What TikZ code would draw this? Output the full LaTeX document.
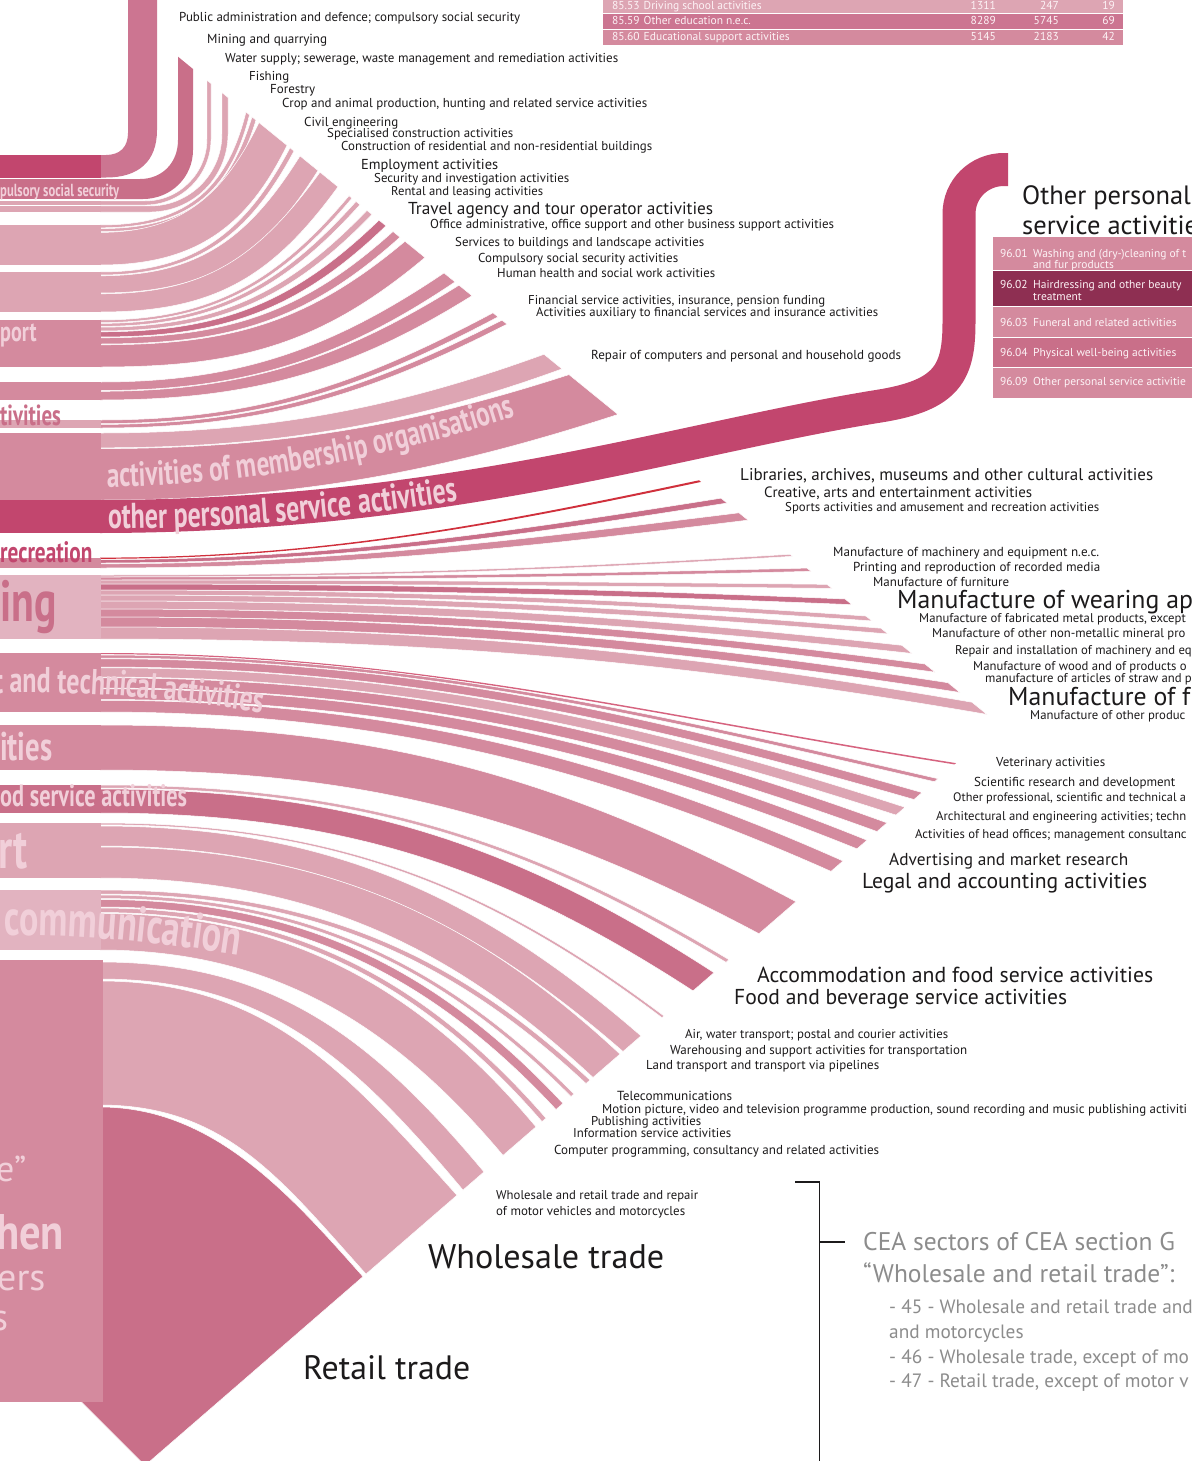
\documentclass[tikz,border=0pt]{standalone}
\usepackage{fontspec}
\usepackage{graphicx}
\setmainfont{PT Sans}
\newfontfamily\condb[FakeStretch=0.72]{PT Sans}
\newfontfamily\semib[FakeStretch=0.85]{PT Sans}
\usetikzlibrary{decorations.text}
\definecolor{cL}{HTML}{DDA5B3}
\definecolor{cM}{HTML}{D48A9E}
\definecolor{cD}{HTML}{C96F89}
\definecolor{cK}{HTML}{C2466E}
\definecolor{cR}{HTML}{CC7591}
\definecolor{cBar}{HTML}{E2B3C0}
\definecolor{cRed}{HTML}{D0303C}
\definecolor{cVet}{HTML}{D6637F}
\definecolor{cTxt}{HTML}{F1CFD9}
\definecolor{cDark}{HTML}{8E2F52}
\definecolor{cGray}{HTML}{8C8C8C}
\definecolor{cInk}{HTML}{1C1A1B}
\definecolor{cTab}{HTML}{FDF3F6}
\tikzset{
  lbl/.style={anchor=base west, inner sep=0pt, text=cInk},
  tabtxt/.style={anchor=base west, inner sep=0pt, text=cTab, font=\fontsize{11.5}{11.5}\selectfont},
  tabnum/.style={anchor=base east, inner sep=0pt, text=cTab, font=\fontsize{11.5}{11.5}\selectfont},
  bartxt/.style={anchor=base west, inner sep=0pt, text=cTxt},
  gtxt/.style={anchor=base west, inner sep=0pt, text=cGray},
  brk/.style={line width=1.3pt, cInk}
}
% ribbon: fill colour, ray slope, start top y, start bottom y, end x (top edge), end x (bottom edge), end angle, control factor, extra options
\newcommand\rib[9]{%
  \pgfmathsetmacro\rbEa{725+(#2)*(1000-(#5))}%
  \pgfmathsetmacro\rbEb{725+(#2)*(1000-(#6))}%
  \pgfmathsetmacro\rbDa{#8*10*veclen(((#5)-100)/10,(\rbEa-(#3))/10)}%
  \pgfmathsetmacro\rbDb{#8*10*veclen(((#6)-100)/10,(\rbEb-(#4))/10)}%
  \pgfmathsetmacro\rbC{cos(#7)}%
  \pgfmathsetmacro\rbS{sin(#7)}%
  \fill[fill=#1,draw=white,line width=0.5pt,#9] (100,#3) .. controls ({100+\rbDa},#3) and ({#5-\rbDa*\rbC},{\rbEa+\rbDa*\rbS}) .. (#5,\rbEa) -- (#6,\rbEb) .. controls ({#6-\rbDb*\rbC},{\rbEb+\rbDb*\rbS}) and ({100+\rbDb},#4) .. (100,#4) -- cycle;}
\newcommand\lab[5]{\node[lbl] (#1) at (#2,#3) {\resizebox{#4pt}{!}{#5}};}
\newcommand\labf[5]{\node[lbl,font=\fontsize{#4}{#4}\selectfont] (#1) at (#2,#3) {#5};}
\begin{document}
\begin{tikzpicture}[x=1pt,y=-1pt]
\useasboundingbox (0,0) rectangle (1191,1461);
\fill[white] (0,0) rectangle (1191,1461);

% ---------- top ribbons with corners ----------
\fill[cR] (100,155) -- (106,155) .. controls (120,155) and (128,147) .. (128,133) -- (128,-3) -- (157,-3) -- (157,130) .. controls (157,162) and (138,177.5) .. (106,177.5) -- (100,177.5) -- cycle;
\fill[cD] (100,179) -- (140,179) .. controls (162,179) and (178,163) .. (178,140) -- (178,56.7) -- (193,69) -- (193,150) .. controls (193,177.6) and (170.6,199) .. (143,199) -- (100,199) -- cycle;
% thin bands (mining, water supply)
\fill[cL,draw=white,line width=0.4pt] (100,201) -- (145,201) arc[start angle=90,end angle=0,radius=62] -- (207,80.3) -- (211,83.6) -- (211,139) arc[start angle=0,end angle=90,radius=66] -- (100,205) -- cycle;
\fill[cL,draw=white,line width=0.4pt] (100,206) -- (150,206) arc[start angle=90,end angle=0,radius=72] -- (222,92.6) -- (228,97.5) -- (228,134) arc[start angle=0,end angle=90,radius=78] -- (100,212) -- cycle;

% ---------- upper ribbons ----------
\rib{cL}{-0.813}{225}{227.8}{246}{249.5}{76}{0.45}{}
\rib{cL}{-0.813}{228.6}{231.6}{252}{256}{73}{0.45}{}
\rib{cL}{-0.813}{232.4}{265}{259}{287}{64}{0.42}{}
\rib{cL}{-0.813}{272}{275}{290}{294}{62}{0.42}{}
\rib{cL}{-0.813}{275.8}{293}{300}{318}{58}{0.42}{}
\rib{cL}{-0.813}{293.8}{312}{320}{338}{54}{0.42}{}
\rib{cL}{-0.813}{320}{322.6}{349}{352}{50}{0.4}{}
\rib{cL}{-0.813}{323.4}{326.4}{356}{360}{48}{0.4}{}
\rib{cL}{-0.813}{327.2}{331}{367}{372}{46}{0.4}{}
\rib{cD}{-0.813}{331.8}{337}{379}{386}{44}{0.4}{}
\rib{cM}{-0.813}{337.8}{344}{393}{400}{42}{0.4}{}
\rib{cM}{-0.813}{344.8}{367}{405}{425}{40}{0.4}{}
\rib{cM}{-0.813}{382}{390.5}{444}{455}{34}{0.38}{}
\rib{cM}{-0.813}{391.3}{400}{459}{472}{32}{0.38}{}
\rib{cM}{-0.813}{420}{423.6}{493}{498}{28}{0.38}{}
\rib{cM}{-0.813}{424.4}{428}{502}{507}{27}{0.38}{}
\rib{cL}{-0.813}{433}{447.8}{544}{562}{20}{0.36}{}
\rib{cM}{-0.813}{448.6}{500}{569}{618}{18}{0.36}{}
% arts, entertainment and recreation
\rib{cRed}{-0.813}{557.6}{558.8}{699}{701}{12}{0.36}{draw=none}
\rib{cD}{-0.813}{559.6}{563}{721}{727}{9}{0.36}{}
\rib{cM}{-0.813}{563.8}{568}{739}{748}{7}{0.36}{}
% manufacturing
\rib{cL}{-0.813}{575}{577}{790}{792.5}{3.5}{0.36}{}
\rib{cM}{-0.813}{577}{580}{807}{811}{1.4}{0.36}{}
\rib{cL}{-0.813}{580}{584}{827}{832}{-0.6}{0.36}{}
\rib{cD}{-0.813}{584}{590}{845}{852}{-2.4}{0.36}{}
\rib{cL}{-0.813}{590}{595}{866}{872}{-4}{0.36}{}
\rib{cL}{-0.813}{595}{601}{881}{888}{-4.8}{0.36}{}
\rib{cL}{-0.813}{601}{609}{902}{912}{-6.2}{0.36}{}
\rib{cM}{-0.813}{609}{617}{925}{935}{-7.6}{0.36}{}
\rib{cM}{-0.813}{617}{627}{948}{960}{-8.8}{0.36}{}
\rib{cL}{-0.813}{627}{639}{972}{987}{-9.8}{0.36}{}

% ---------- lower ribbons ----------
\rib{cVet}{0.866}{653}{654.2}{956}{954.5}{-9}{0.36}{draw=none}
\rib{cM}{0.866}{655}{658}{938}{934.5}{-13}{0.36}{}
\rib{cM}{0.866}{658.8}{667}{922}{914}{-16}{0.36}{}
\rib{cL}{0.866}{667.8}{677}{905}{896}{-18}{0.36}{}
\rib{cM}{0.866}{677.8}{688}{887}{877}{-20}{0.36}{}
\rib{cM}{0.866}{688.8}{699.5}{867}{857}{-22}{0.36}{}
\rib{cM}{0.866}{700.3}{712}{843}{831}{-24}{0.36}{}
\rib{cM}{0.866}{725}{770}{796}{759}{-28}{0.38}{}
\rib{cL}{0.866}{785}{788}{729}{726}{-31}{0.38}{}
\rib{cD}{0.866}{789}{813}{714}{693}{-33}{0.38}{}
\rib{cL}{0.866}{823}{824.8}{664}{662}{-37}{0.38}{}
\rib{cL}{0.866}{826}{846}{641}{623}{-41}{0.38}{}
\rib{cL}{0.866}{847}{878}{620}{593}{-43}{0.38}{}
\rib{cL}{0.866}{890}{894}{590}{586}{-43}{0.38}{}
\rib{cL}{0.866}{895}{898.5}{574}{571}{-45}{0.38}{}
\rib{cM}{0.866}{899.5}{907}{563}{556}{-47}{0.38}{}
\rib{cL}{0.866}{908}{912.5}{546}{542}{-49}{0.38}{}
\rib{cL}{0.866}{913.5}{950}{536}{503}{-50}{0.38}{}
\rib{cL}{0.866}{962}{979}{484}{463}{-50}{0.4}{}
\rib{cL}{0.866}{981}{1105}{457}{366}{-48}{0.4}{}
% retail wedge
\fill[cD,draw=white,line width=0.5pt] (100,1107) .. controls (212,1107) and (288,1192) .. (363,1276.6) -- (145,1465.5) -- (60,1380.5) -- (60,1107) -- cycle;

% ---------- other personal service activities band ----------
\draw[cK, line width=33pt] (100,516.5) .. controls (450,516) and (680,438) .. (880,406) .. controls (948,395) and (959,372) .. (959,322) -- (959,214) .. controls (959,189) and (979,169.5) .. (1004,169.5) -- (1008,169.5);

% ---------- section bars ----------
\fill[cK] (0,155) rectangle (100.5,177.5);
\fill[cD] (0,178.5) rectangle (100.5,199);
\fill[cL] (0,201) rectangle (100.5,205);
\fill[cL] (0,206) rectangle (100.5,212);
\fill[cL] (0,225) rectangle (100.5,265);
\fill[cL] (0,272) rectangle (100.5,312);
\fill[cM] (0,320) rectangle (100.5,367);
\fill[cM] (0,382) rectangle (100.5,400);
\fill[cL] (0,420) rectangle (100.5,428);
\fill[cM] (0,433) rectangle (100.5,500);
\fill[cK] (0,500) rectangle (100.5,533);
\fill[cM] (0,557.6) rectangle (100.5,568);
\fill[cBar] (0,575) rectangle (100.5,639);
\fill[cM] (0,653) rectangle (100.5,712);
\fill[cM] (0,725) rectangle (100.5,770);
\fill[cD] (0,785) rectangle (100.5,813);
\fill[cL] (0,823) rectangle (100.5,878);
\fill[cBar] (0,890) rectangle (100.5,950);
\fill[cM] (0,960) rectangle (103,1402);

% ---------- section texts ----------
\node[bartxt] (s1) at (0,196) {\condb\bfseries\fontsize{17.5}{17.5}\selectfont pulsory social security};
\node[bartxt] (s2) at (0,341) {\condb\bfseries\fontsize{28}{28}\selectfont port};
\node[bartxt,text=cD] (s3) at (0,425) {\condb\bfseries\fontsize{29}{29}\selectfont tivities};
\node[bartxt,text=cK] (s4) at (0,562) {\condb\bfseries\fontsize{29.5}{29.5}\selectfont recreation};
\node[bartxt,text=cD] (s5) at (0,621) {\condb\bfseries\fontsize{58}{58}\selectfont ing};
\node[bartxt] (s6) at (0,760) {\condb\bfseries\fontsize{40}{40}\selectfont ities};
\node[bartxt] (s7) at (0,806) {\condb\bfseries\fontsize{31}{31}\selectfont od service activities};
\node[bartxt] (s8) at (-2,868) {\condb\bfseries\fontsize{56}{56}\selectfont rt};
\node[bartxt] (s9) at (-4,1181) {\fontsize{36}{36}\selectfont e”};
\node[bartxt] (s10) at (-4,1249) {\semib\bfseries\fontsize{50}{50}\selectfont hen};
\node[bartxt] (s11) at (-3,1290) {\fontsize{38}{38}\selectfont ers};
\node[bartxt] (s12) at (-8,1330) {\fontsize{38}{38}\selectfont s};
\path[decorate,decoration={text along path,text={|\condb\bfseries\fontsize{36}{36}\selectfont\color{cTxt}|t and technical activities}}] (-6,693) .. controls (100,692) and (170,696) .. (330,724);
\path[decorate,decoration={text along path,text={|\condb\bfseries\fontsize{50}{50}\selectfont\color{cTxt}|communication}}] (4,936) .. controls (90,934) and (170,942) .. (330,970);
\path[decorate,decoration={text along path,text={|\condb\bfseries\fontsize{35}{35}\selectfont\color{cTxt}|activities of membership organisations}}] (107,487) .. controls (260,485) and (420,456) .. (620,380);
\path[decorate,decoration={text along path,text align={left indent=8pt},text={|\condb\bfseries\fontsize{36}{36}\selectfont\color{cTxt}|other personal service activities}}] (100,529) .. controls (450,528.5) and (680,450) .. (880,418);

% ---------- education table ----------
\fill[cL] (603,-1) rectangle (1123,13.5);
\fill[cR] (603,13.5) rectangle (1123,29);
\fill[cM] (603,29) rectangle (1123,45);
\draw[white,line width=0.6pt] (603,13.5) -- (1123,13.5) (603,29) -- (1123,29);
\node[tabtxt] (e1) at (612,10) {85.53\hspace{4pt}Driving school activities};
\node[tabnum] (e1a) at (996,10) {1311};
\node[tabnum] (e1b) at (1059,10) {247};
\node[tabnum] (e1c) at (1115,10) {19};
\node[tabtxt] (e2) at (612,25) {85.59\hspace{4pt}Other education n.e.c.};
\node[tabnum] (e2a) at (996,25) {8289};
\node[tabnum] (e2b) at (1059,25) {5745};
\node[tabnum] (e2c) at (1115,25) {69};
\node[tabtxt] (e3) at (612,41) {85.60\hspace{4pt}Educational support activities};
\node[tabnum] (e3a) at (996,41) {5145};
\node[tabnum] (e3b) at (1059,41) {2183};
\node[tabnum] (e3c) at (1115,41) {42};

% ---------- 96 box ----------
\fill[cM] (993,237) rectangle (1195,270);
\fill[cDark] (993,270) rectangle (1195,306);
\fill[cM] (993,306) rectangle (1195,337);
\fill[cD] (993,337) rectangle (1195,367);
\fill[cM] (993,367) rectangle (1195,398);
\draw[white,line width=0.8pt] (993,270) -- (1195,270) (993,306) -- (1195,306) (993,337) -- (1195,337) (993,367) -- (1195,367);
\node[tabtxt] (p1) at (1000,257.5) {96.01};
\node[tabtxt] (p1t) at (1033,257.5) {Washing and (dry-)cleaning of t};
\node[tabtxt] (p1u) at (1033,268.5) {and fur products};
\node[tabtxt] (p2) at (1000,288) {96.02};
\node[tabtxt] (p2t) at (1033,288) {Hairdressing and other beauty};
\node[tabtxt] (p2u) at (1033,300) {treatment};
\node[tabtxt] (p3) at (1000,326) {96.03};
\node[tabtxt] (p3t) at (1033,326) {Funeral and related activities};
\node[tabtxt] (p4) at (1000,356) {96.04};
\node[tabtxt] (p4t) at (1033,356) {Physical well-being activities};
\node[tabtxt] (p5) at (1000,385) {96.09};
\node[tabtxt] (p5t) at (1033,385) {Other personal service activitie};
\labf{t1}{1022}{204}{26.5}{Other personal}
\labf{t2}{1022}{234}{26.5}{service activitie}

% ---------- labels ----------
\lab{l1}{179}{22}{341}{Public administration and defence; compulsory social security}
\lab{l2}{207}{44}{120}{Mining and quarrying}
\lab{l3}{225}{63}{393}{Water supply; sewerage, waste management and remediation activities}
\lab{l4}{249}{81}{40}{Fishing}
\lab{l5}{270}{94}{45}{Forestry}
\lab{l6}{282}{107}{365}{Crop and animal production, hunting and related service activities}
\lab{l7}{304}{127}{94}{Civil engineering}
\lab{l8}{327}{138}{186}{Specialised construction activities}
\lab{l9}{341}{151}{311}{Construction of residential and non-residential buildings}
\lab{l10}{361}{169}{137}{Employment activities}
\lab{l11}{374}{182}{195}{Security and investigation activities}
\lab{l12}{391}{195}{152}{Rental and leasing activities}
\lab{l13}{408}{214}{305}{Travel agency and tour operator activities}
\lab{l14}{430}{228}{404}{Office administrative, office support and other business support activities}
\lab{l15}{455}{246}{249}{Services to buildings and landscape activities}
\lab{l16}{478}{262}{200}{Compulsory social security activities}
\lab{l17}{497}{277}{218}{Human health and social work activities}
\lab{l18}{528}{304}{297}{Financial service activities, insurance, pension funding}
\lab{l19}{536}{316}{342}{Activities auxiliary to financial services and insurance activities}
\lab{l20}{591}{359}{310}{Repair of computers and personal and household goods}
\lab{l21}{740}{480}{413}{Libraries, archives, museums and other cultural activities}
\lab{l22}{764}{497}{268}{Creative, arts and entertainment activities}
\lab{l23}{785}{511}{314}{Sports activities and amusement and recreation activities}
\lab{l24}{833}{556}{266}{Manufacture of machinery and equipment n.e.c.}
\lab{l25}{853}{571}{247}{Printing and reproduction of recorded media}
\lab{l26}{873}{586}{136}{Manufacture of furniture}
\labf{l27}{897}{608}{25.8}{Manufacture of wearing ap}
\labf{l28}{919}{622}{12.7}{Manufacture of fabricated metal products, except}
\labf{l29}{932}{637}{12.7}{Manufacture of other non-metallic mineral pro}
\labf{l30}{955}{654}{12.7}{Repair and installation of machinery and eq}
\labf{l31}{973}{670}{12.7}{Manufacture of wood and of products o}
\labf{l32}{985}{682}{12.7}{manufacture of articles of straw and p}
\labf{l33}{1008}{705}{25.8}{Manufacture of f}
\labf{l34}{1030}{719}{12.7}{Manufacture of other produc}
\lab{l35}{996}{766}{109}{Veterinary activities}
\lab{l36}{974}{786}{201}{Scientific research and development}
\labf{l37}{953}{801}{12.3}{Other professional, scientific and technical a}
\labf{l38}{936}{820}{12.7}{Architectural and engineering activities; techn}
\labf{l39}{915}{838}{12.7}{Activities of head offices; management consultanc}
\lab{l40}{889}{865}{239}{Advertising and market research}
\lab{l41}{862}{888}{285}{Legal and accounting activities}
\lab{l42}{757}{982}{396}{Accommodation and food service activities}
\lab{l43}{734}{1004}{333}{Food and beverage service activities}
\lab{l44}{685}{1038}{263}{Air, water transport; postal and courier activities}
\lab{l45}{670}{1054}{297}{Warehousing and support activities for transportation}
\lab{l46}{646}{1069}{233}{Land transport and transport via pipelines}
\lab{l47}{617}{1100}{115}{Telecommunications}
\labf{l48}{602}{1113}{12.9}{Motion picture, video and television programme production, sound recording and music publishing activiti}
\lab{l49}{591}{1125}{110}{Publishing activities}
\lab{l50}{573}{1137}{158}{Information service activities}
\lab{l51}{554}{1154}{325}{Computer programming, consultancy and related activities}
\lab{l52}{496}{1199}{202}{Wholesale and retail trade and repair}
\lab{l53}{496}{1215}{189}{of motor vehicles and motorcycles}
\lab{l54}{428}{1268}{236}{Wholesale trade}
\lab{l55}{303}{1379}{167}{Retail trade}

% ---------- bracket and CEA note ----------
\coordinate (b1) at (795,1182);
\coordinate (b2) at (819.5,1182);
\coordinate (b3) at (819.5,1463);
\coordinate (b4) at (819.5,1242);
\coordinate (b5) at (845,1242);
\draw[brk] (b1) -- (b2) -- (b3);
\draw[brk] (b4) -- (b5);
\node[gtxt,font=\fontsize{25.5}{25.5}\selectfont] (g1) at (863,1250) {CEA sectors of CEA section G};
\node[gtxt,font=\fontsize{25.5}{25.5}\selectfont] (g2) at (863,1282) {“Wholesale and retail trade”:};
\node[gtxt,font=\fontsize{19.3}{19.3}\selectfont] (g3) at (889,1313) {- 45 - Wholesale and retail trade and};
\node[gtxt,font=\fontsize{19.3}{19.3}\selectfont] (g4) at (889,1338) {and motorcycles};
\node[gtxt,font=\fontsize{19.3}{19.3}\selectfont] (g5) at (889,1363) {- 46 - Wholesale trade, except of mo};
\node[gtxt,font=\fontsize{19.3}{19.3}\selectfont] (g6) at (889,1387) {- 47 - Retail trade, except of motor v};
\end{tikzpicture}
\end{document}
